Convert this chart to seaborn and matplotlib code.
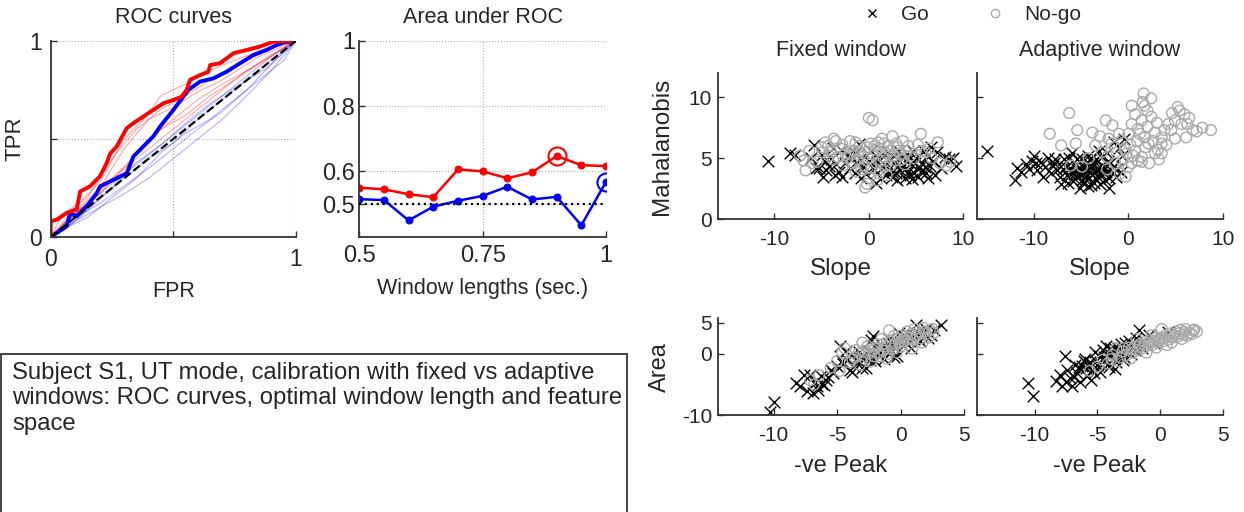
import numpy as np
import pandas as pd
import matplotlib
matplotlib.use('Agg')
import matplotlib.pyplot as plt
import seaborn as sns
from matplotlib.patches import Rectangle
from matplotlib.lines import Line2D

# ---- ROC curves (thick = best window, thin = other windows) ----
roc_red_fpr = [0, 0, 0.024, 0.065, 0.106, 0.12, 0.16, 0.2, 0.228, 0.242, 0.269, 0.31, 0.337, 0.378,
               0.418, 0.459, 0.5, 0.534, 0.554, 0.568, 0.609, 0.643, 0.65, 0.69, 0.745, 0.8, 0.853, 0.908, 1]
roc_red_tpr = [0, 0.08, 0.088, 0.122, 0.142, 0.232, 0.258, 0.308, 0.376, 0.424, 0.461, 0.554, 0.58, 0.614,
               0.647, 0.681, 0.698, 0.715, 0.749, 0.8, 0.825, 0.842, 0.876, 0.885, 0.936, 0.953, 0.97, 0.995, 1]
roc_blue_fpr = [0, 0.024, 0.065, 0.079, 0.106, 0.147, 0.188, 0.201, 0.242, 0.283, 0.31, 0.337, 0.364, 0.391,
                0.418, 0.446, 0.473, 0.5, 0.52, 0.541, 0.561, 0.609, 0.663, 0.717, 0.772, 0.826, 0.88, 0.921, 0.948, 1]
roc_blue_tpr = [0, 0.02, 0.054, 0.122, 0.105, 0.156, 0.224, 0.258, 0.283, 0.308, 0.325, 0.41, 0.444, 0.478,
                0.512, 0.563, 0.605, 0.647, 0.681, 0.715, 0.749, 0.792, 0.808, 0.842, 0.885, 0.927, 0.953, 0.978, 0.99, 1]

thin_red_fpr = [
    [0, 0.05, 0.15, 0.25, 0.35, 0.45, 0.55, 0.65, 0.8, 0.9, 1],
    [0, 0.08, 0.2, 0.3, 0.4, 0.5, 0.6, 0.7, 0.85, 1],
    [0, 0.1, 0.2, 0.3, 0.4, 0.5, 0.6, 0.7, 0.85, 1],
    [0, 0.05, 0.15, 0.25, 0.35, 0.45, 0.55, 0.65, 0.75, 0.9, 1],
    [0, 0.1, 0.2, 0.3, 0.38, 0.45, 0.55, 0.65, 0.75, 0.9, 1],
    [0, 0.06, 0.18, 0.28, 0.4, 0.5, 0.6, 0.7, 0.8, 1],
]
thin_red_tpr = [
    [0, 0.12, 0.2, 0.4, 0.55, 0.65, 0.72, 0.8, 0.9, 0.96, 1],
    [0, 0.1, 0.25, 0.45, 0.6, 0.66, 0.74, 0.8, 0.92, 1],
    [0, 0.12, 0.22, 0.35, 0.5, 0.6, 0.7, 0.78, 0.88, 1],
    [0, 0.05, 0.18, 0.3, 0.42, 0.55, 0.62, 0.72, 0.8, 0.93, 1],
    [0, 0.15, 0.28, 0.5, 0.6, 0.72, 0.78, 0.85, 0.9, 0.97, 1],
    [0, 0.08, 0.2, 0.33, 0.45, 0.55, 0.65, 0.75, 0.85, 1],
]
thin_blue_fpr = [
    [0, 0.1, 0.2, 0.3, 0.4, 0.5, 0.6, 0.7, 0.8, 0.9, 1],
    [0, 0.1, 0.2, 0.3, 0.4, 0.5, 0.6, 0.7, 0.8, 0.9, 1],
    [0, 0.08, 0.2, 0.3, 0.4, 0.5, 0.6, 0.7, 0.8, 0.9, 1],
    [0, 0.1, 0.2, 0.3, 0.4, 0.5, 0.6, 0.7, 0.8, 0.9, 1],
    [0, 0.05, 0.15, 0.25, 0.35, 0.45, 0.55, 0.65, 0.75, 0.85, 0.95, 1],
    [0, 0.12, 0.25, 0.35, 0.45, 0.55, 0.65, 0.75, 0.88, 1],
]
thin_blue_tpr = [
    [0, 0.08, 0.15, 0.22, 0.3, 0.4, 0.5, 0.6, 0.72, 0.85, 1],
    [0, 0.1, 0.17, 0.26, 0.35, 0.45, 0.55, 0.64, 0.75, 0.88, 1],
    [0, 0.06, 0.2, 0.3, 0.4, 0.48, 0.6, 0.7, 0.8, 0.9, 1],
    [0, 0.12, 0.22, 0.32, 0.42, 0.52, 0.62, 0.72, 0.82, 0.92, 1],
    [0, 0.04, 0.1, 0.2, 0.3, 0.43, 0.53, 0.6, 0.7, 0.8, 0.9, 1],
    [0, 0.1, 0.25, 0.38, 0.47, 0.58, 0.68, 0.76, 0.86, 1],
]

# ---- Area under ROC vs window length ----
win_len = [0.5, 0.55, 0.6, 0.65, 0.7, 0.75, 0.8, 0.85, 0.9, 0.95, 1.0]
auc_red = [0.55, 0.545, 0.53, 0.521, 0.606, 0.6, 0.579, 0.597, 0.647, 0.619, 0.616]
auc_blue = [0.515, 0.512, 0.45, 0.492, 0.51, 0.525, 0.553, 0.514, 0.522, 0.435, 0.568]

# ---- Feature space: Slope vs Mahalanobis ----
fix_go_slope = [-10.7, -8.3, -7.8, -5.8, -5.3, -4.8, -4.5, -3.8, -3.5, -2.8, -2.2, -1.5, -1, -0.8, 0, 0.8, 1.5, 2,
                2.5, 3, 3.3, 3.6, 3.8, 4, 4.2, 4.5, 4.8, 5, 5.3, 5.6, 6, 6.2, 6.5, 7, 7.2, 8.5, 8.9, 9.2, -4, -2,
                -1.2, 0.5, 1, 2.8, 3.2, 4.6, 5.5, 6.8, -5, -3.2, -0.3, 1.8, 2.2, 3.9, 4.4, 5.8, 0.2, -1.8, -4.2, 2.6,
                3.4, 4.1, 4.9, 5.2, 5.9, 6.3, 3.0, 2.4, 1.3, -0.5, -1.5, -2.5, -3.6, -4.6, -5.6, -6.1, 0.9, 1.6,
                4.7, 6.6, 7.6, 8.1, -2.9, -0.9, 2.9]
fix_go_maha = [4.8, 5.4, 5.3, 6.1, 4.2, 3.5, 4.0, 5.8, 4.5, 3.5, 5.2, 3.8, 6.2, 3.4, 4.8, 3.0, 4.3, 5.5,
               3.5, 3.2, 4.0, 5.0, 3.4, 4.8, 5.2, 4.5, 3.8, 5.0, 4.2, 4.6, 3.8, 5.2, 4.4, 3.6, 5.5, 4.9, 5.0, 4.4, 4.9, 4.2,
               4.6, 4.1, 5.0, 4.6, 5.6, 3.3, 3.9, 4.8, 5.3, 3.9, 3.7, 3.6, 4.9, 4.2, 3.6, 5.6, 5.6, 5.0, 4.4, 4.0,
               4.3, 3.9, 4.6, 3.5, 4.3, 3.4, 4.9, 3.9, 3.4, 4.3, 5.4, 4.6, 3.6, 4.8, 4.2, 5.0, 4.7, 5.2,
               5.6, 5.9, 4.2, 5.1, 5.7, 4.9, 3.8]
fix_nogo_slope = [-7.3, -6.9, -6.7, -6, -5, -4.6, -4.3, -4, -3.5, -3, -2.7, -2.3, -2, -1.6, -1.2, -1, -0.8, -0.5,
                  -0.4, -0.2, 0, 0.4, 0.2, 0.5, 0.8, 1, 1.2, 1.5, 1.7, 2, 2.2, 2.5, 2.8, 3, 3.3, 3.6, 4, 4.4, 5.2, 5.5,
                  6, 6.4, 7.3, 7.5, 8.2, 8.6, -1.8, -0.6, 0.3, 1.1, 1.9, -2.5, -3.8, -5.5, 0.7, 2.6, 3.8, -1.4, 1.4, -0.2,
                  -4.2, -3.3, -2.8, -1.9, -1.1, -0.1, 0.6, 1.3, 1.8, 2.3, 2.9, 3.5, 4.2, 4.8, 5.6, 6.7, -0.8, 0.1,
                  0.9, -3.7, -4.9, -6.3, 3.1, 1.6, -1.4]
fix_nogo_maha = [5.2, 4.8, 4.0, 4.6, 5.9, 6.3, 6.0, 5.5, 6.4, 5.8, 4.4, 5.0, 6.4, 5.6, 4.9, 6.0, 5.4, 4.4,
                 2.6, 2.9, 8.3, 8.1, 6.2, 5.3, 4.6, 6.3, 5.8, 5.1, 4.3, 6.0, 5.6, 6.8, 4.8, 5.9, 5.3, 6.4, 5.6, 5.2, 6.1, 7.0,
                 5.5, 5.8, 6.3, 4.6, 4.4, 4.7, 4.6, 5.1, 4.2, 3.8, 3.6, 5.4, 4.9, 4.7, 5.7, 5.2, 4.5, 3.9, 6.6, 5.9,
                 5.2, 5.1, 6.1, 5.3, 5.6, 5.0, 6.0, 4.8, 5.4, 4.4, 6.2, 4.9, 6.0, 5.0, 5.6, 5.0, 4.1, 3.4,
                 3.2, 6.6, 5.5, 5.6, 5.6, 6.2, 6.3]
ada_go_slope = [-14.9, -12, -11.3, -10.8, -10.5, -10, -9.6, -9.2, -8.8, -8.2, -7.8, -7.5, -7.1, -6.8, -6.5, -6.2,
                -6, -5.8, -5.5, -5.3, -5.1, -4.9, -4.7, -4.5, -4.3, -4.1, -3.9, -3.7, -3.5, -3.3, -3.1, -2.9, -2.7,
                -2.5, -2.2, -2, -1.8, -1.5, -1.3, -1, -0.8, -0.5, -5.6, -4.8, -4.4, -3.6, -6.6, -8.5, -9.8, -2.4,
                -3.0, -4.0, -5.0, -1.6, -7.2, -11.7, -6.3, -3.4, -2.8, -4.6,
                -5.2, -4.2, -3.8, -3.2, -2.6, -2.1, -1.9, -4.5, -5.4, -6.0, -6.9, -7.7, -8.0, -9.0, -10.2, -3.5,
                -4.9, -1.2, -0.7, -2.3, -4.0, -5.7, -3.0, -4.3, -6.4]
ada_go_maha = [5.6, 3.2, 3.9, 4.5, 4.1, 5.2, 4.0, 4.7, 4.3, 3.8, 4.6, 4.0, 2.9, 4.9, 3.6, 4.2,
               5.4, 3.1, 4.5, 3.8, 2.6, 4.9, 4.2, 3.5, 5.2, 3.9, 2.8, 4.6, 3.4, 4.1, 5.6, 3.7, 4.4,
               3.2, 4.8, 2.6, 4.0, 6.3, 3.5, 5.8, 3.9, 6.6, 3.3, 3.0, 4.7, 3.0, 4.3, 5.0, 4.6, 3.9,
               4.3, 4.4, 3.7, 4.3, 3.5, 4.2, 5.0, 4.9, 5.1, 3.9,
               4.2, 3.4, 4.3, 3.5, 4.2, 3.4, 4.6, 4.5, 4.9, 3.8, 4.1, 4.9, 4.4, 3.5, 4.8, 3.9,
               3.2, 4.1, 5.2, 5.4, 5.0, 3.7, 2.9, 2.7, 3.0]
ada_nogo_slope = [-8.3, -6.25, -7.1, -5.55, -5.4, -3.8, -2.4, -1.7, 0.35, 1.6, 1.7, 0.7, 2.4, 5.2, 5.9, 4.9, 7.8,
                  8.7, 6.8, 6.1, 4.2, 3.5, 2.8, 1.0, 0, -0.7, -1.4, 0.7, 1.4, 2.1, 3.5, 1.4, 0.35, -0.7, -1.4, -2.25,
                  -3.5, -2.8, -4.2, -4.9, -6.1, -0.3, -0.9, 3.8, 0.35, 1.7, 4.5, 5.6, 2.8, 1.4, 2.4, -2.1, -0.2,
                  -2.25, 3.5, 4.9,
                  0.2, 0.9, 1.8, 2.6, 3.1, 4.0, 1.2, 2.0, 3.0, 4.6, 5.4, 6.4, 0.5, 1.0, -0.4, -1.0, 2.2, 3.2,
                  -1.8, 0.0, 6.2, 7.2, 1.5, 2.0, -3.0]
ada_nogo_maha = [7.0, 8.7, 6.05, 6.2, 7.3, 7.1, 8.1, 7.7, 9.3, 10.3, 9.3, 8.6, 8.4, 9.2, 8.6, 8.1, 7.5,
                 7.3, 7.3, 6.7, 7.8, 6.7, 7.1, 7.4, 7.0, 6.5, 5.9, 5.6, 5.1, 6.2, 6.2, 4.7, 4.6, 4.8, 4.6, 4.1,
                 6.05, 5.5, 5.0, 4.3, 4.4, 3.5, 3.75, 7.3, 7.8, 6.7, 7.3, 7.8, 5.4, 8.1, 9.9, 6.6, 5.4,
                 5.1, 5.4, 6.6,
                 6.1, 6.4, 5.9, 6.4, 5.7, 6.1, 7.0, 7.6, 7.9, 8.7, 8.9, 8.3, 5.2, 4.8, 5.8, 7.0, 4.6, 4.9,
                 6.2, 4.3, 7.8, 7.2, 9.6, 8.9, 6.8]

# ---- Feature space: -ve Peak vs Area ----
fixb_go_peak = [-10.3, -10.0, -8.2, -7.9, -7.6, -7.4, -7.1, -6.9, -6.6, -6.5, -6.2, -6.0, -5.7, -5.3, -5.0, -4.8,
                -4.5, -4.3, -4.0, -3.7, -3.5, -3.2, -3.0, -2.7, -2.5, -2.3, -2.2, -2.0, -1.8, -1.5, -1.3, -1.0,
                -0.8, -0.6, -0.3, -0.1, 0.2, 0.5, 0.8, 1.0, 1.2, 1.5, 1.8, 2.2, 2.6, 3.2, -5.5, -4.2, -3.8, -2.8,
                -1.7, -0.5, 0.3, 1.4, -6.3, -3.3, -0.9, 2.0,
                -4.6, -3.9, -3.1, -2.4, -1.9, -1.1, -0.4, 0.4, 1.1, 1.7, 2.4, -5.9, -6.7]
fixb_go_area = [-9.5, -7.8, -4.8, -5.2, -3.5, -6.0, -3.4, -6.4, -5.2, -5.9, -4.9, -5.1, -3.8, -3.2, -2.0, 1.2,
                -1.6, 0.4, -2.6, -2.0, -0.8, -1.5, -2.4, -2.3, 0.5, 2.2, 2.8, -1.2, -0.2, 1.0, -0.8, 1.8,
                0.3, 1.7, -0.3, 3.4, 1.2, 2.5, 0.9, 3.0, 4.7, 2.0, 3.5, 2.6, 3.8, 4.7, -2.6, -1.0, -3.0, -0.5,
                0.6, -0.6, 2.9, 3.4, -3.6, 0.2, 2.4, 4.0,
                -1.2, -0.4, -0.6, -1.0, 0.9, 0.2, 1.0, 1.8, 2.4, 2.8, 3.0, -4.3, -4.6]
fixb_nogo_peak = [-7.1, -6.8, -6.4, -5.5, -5.0, -4.6, -4.4, -4.0, -3.6, -3.2, -3.0, -2.8, -2.5, -2.3, -2.0, -1.8,
                  -1.6, -1.4, -1.2, -1.0, -0.8, -0.6, -0.4, -0.2, 0.0, 0.2, 0.4, 0.6, 0.8, 1.0, 1.2, 1.4, 1.6,
                  1.8, 2.0, 2.3, 2.6, -0.9, 1.1, -3.5, -2.1, -0.3, 0.5, 1.7, -1.5, -4.8, -2.6, 0.9, 2.2, -1.1,
                  -3.8, -3.3, -2.9, -2.2, -1.7, -1.3, -0.7, -0.1, 0.3, 0.7, 1.3, 1.9, 2.5, 0.1, -0.5]
fixb_nogo_area = [-4.3, -5.0, -3.5, -2.3, -1.2, 0.2, 0.9, -1.4, -0.6, -1.8, 1.8, -0.9, 0.0, -1.2, 0.8, 1.5,
                  -0.4, 0.5, 1.2, 0.0, 2.0, 0.8, 1.6, 2.4, 1.1, 2.0, 2.8, 1.5, 3.2, 2.2, 2.8, 3.6, 2.5,
                  4.2, 3.2, 3.8, 3.4, 3.8, 4.0, 0.6, -0.4, 0.2, 3.6, 1.8, 2.4, -2.8, 1.2, 0.8, 2.6, -0.8,
                  -0.9, 0.1, 0.4, 0.6, 0.2, 1.6, 1.2, 1.8, 2.4, 2.6, 3.1, 3.6, 4.0, 3.0, 2.9]
adab_go_peak = [-10.5, -10.1, -8.3, -8.0, -7.8, -7.6, -7.4, -7.2, -7.0, -6.8, -6.6, -6.4, -6.2, -6.0, -5.8, -5.6,
                -5.4, -5.2, -5.0, -4.8, -4.6, -4.4, -4.3, -4.1, -3.9, -3.7, -3.5, -3.3, -3.1, -2.9, -2.7, -2.5,
                -2.3, -2.1, -1.9, -1.7, -1.5, -1.3, -6.9, -5.5, -4.9, -3.6, -2.8, -4.0, -5.9, -7.5, -3.0, -2.0,
                -6.1, -4.7, -0.9, 0.6, -0.5,
                -6.5, -5.7, -5.1, -4.5, -3.8, -3.2, -2.6, -2.2, -1.6, -4.2, -5.3, -3.4]
adab_go_area = [-4.8, -6.9, -4.5, -3.5, -5.3, -0.4, -2.6, -4.0, -5.2, -1.8, -3.2, -4.6, -2.0, -0.8, -3.6, -1.4,
                -2.6, 0.2, -1.8, -3.0, 0.6, -1.0, 1.2, -2.2, -0.2, 1.0, -1.4, 0.4, 1.6, -0.6, 0.8, 2.0,
                0.0, 1.4, 2.6, 3.9, 0.9, 2.0, -3.8, -4.2, -0.4, -2.5, 1.8, 0.9, -2.4, -4.6, -1.0, 0.6,
                -1.2, -1.6, 3.0, 3.6, 1.8,
                -2.2, -2.0, -1.2, -0.6, 0.4, -0.2, 0.2, 1.0, 1.6, -1.6, -3.2, 1.0]
adab_nogo_peak = [-5.6, -5.0, -4.6, -4.2, -3.8, -3.5, -3.2, -3.0, -2.7, -2.5, -2.2, -2.0, -1.8, -1.6, -1.4, -1.2,
                  -1.0, -0.8, -0.6, -0.4, -0.2, 0.0, 0.2, 0.4, 0.6, 0.8, 1.0, 1.2, 1.4, 1.6, 1.8, 2.0, 2.3,
                  2.6, 2.9, 0.1, -1.1, -0.3, 0.9, 1.7, -2.4, -3.4, -0.7, 0.5, 2.1, -1.9,
                  -2.9, -2.3, -1.7, -1.3, -0.9, -0.5, -0.1, 0.3, 0.7, 1.1, 1.5, 1.9, 2.5, 2.7, -3.9]
adab_nogo_area = [-2.8, -2.1, -1.0, -1.6, -0.2, 0.8, -0.6, 0.4, -0.2, 1.0, 0.2, 1.2, 0.6, 1.6, 0.9, 1.9,
                  1.3, 2.2, 1.5, 2.5, 1.8, 2.6, 2.0, 3.0, 2.3, 3.3, 2.6, 3.6, 2.8, 3.9, 3.1, 4.0, 3.4,
                  3.8, 3.6, 4.0, 0.2, 1.0, 1.8, 2.4, -0.8, -1.2, 3.0, 1.4, 2.9, 2.4,
                  0.9, 0.7, 1.2, 1.4, 1.8, 2.0, 2.2, 2.6, 2.8, 3.0, 3.3, 3.5, 3.2, 3.9, -0.9]

caption = ("Subject S1, UT mode, calibration with fixed vs adaptive\n"
           "windows: ROC curves, optimal window length and feature\n"
           "space")

sns.set_style('ticks')
plt.rcParams['font.family'] = ['Liberation Sans', 'DejaVu Sans']
plt.rcParams['axes.edgecolor'] = '#333333'
plt.rcParams['axes.linewidth'] = 1.3
plt.rcParams['axes.unicode_minus'] = False

RED = '#ff0000'
BLUE = '#0000ff'
GRAY = '#aaaaaa'
W, H = 1244, 512


def px_axes(fig, x0, y0, x1, y1):
    # place axes from pixel box (top-left origin)
    return fig.add_axes([x0 / W, 1 - y1 / H, (x1 - x0) / W, (y1 - y0) / H])


def matlab_style(ax, tick_size, xpad, ypad):
    sns.despine(ax=ax)
    ax.tick_params(direction='in', length=4, width=1, color='#333333', labelsize=tick_size)
    ax.tick_params(axis='x', pad=xpad)
    ax.tick_params(axis='y', pad=ypad)


fig = plt.figure(figsize=(12.44, 5.12), dpi=100)

# ROC curves
ax = px_axes(fig, 50.7, 40.7, 296, 237)
for fx, ty in zip(thin_red_fpr, thin_red_tpr):
    sns.lineplot(x=fx, y=ty, ax=ax, color=RED, alpha=0.35, lw=0.8, estimator=None, sort=False)
for fx, ty in zip(thin_blue_fpr, thin_blue_tpr):
    sns.lineplot(x=fx, y=ty, ax=ax, color=BLUE, alpha=0.3, lw=0.8, estimator=None, sort=False)
sns.lineplot(x=roc_blue_fpr, y=roc_blue_tpr, ax=ax, color=BLUE, lw=2.8, estimator=None, sort=False)
sns.lineplot(x=roc_red_fpr, y=roc_red_tpr, ax=ax, color=RED, lw=2.8, estimator=None, sort=False)
sns.lineplot(x=[0, 1], y=[0, 1], ax=ax, color='black', lw=1.6, linestyle='--')
ax.set_xlim(0, 1)
ax.set_ylim(0, 1)
ax.set_xticks([0, 0.5, 1])
ax.set_xticklabels(['0', '', '1'])
ax.set_yticks([0, 0.5, 1])
ax.set_yticklabels(['0', '', '1'])
ax.grid(True, linestyle=':', color='#b0b0b0', lw=0.8)
matlab_style(ax, 16.5, 8, 6)
ax.set_title('ROC curves', fontsize=15.5, pad=13)
ax.set_xlabel('FPR', fontsize=15.5, labelpad=7)
ax.set_ylabel('TPR', fontsize=16, labelpad=3)

# Area under ROC
ax = px_axes(fig, 359.3, 40.7, 606, 236.7)
ax.axhline(0.5, color='black', lw=1.6, linestyle=':', zorder=3)
sns.lineplot(x=win_len, y=auc_red, ax=ax, color=RED, lw=1.8, marker='o', ms=5, mec=RED)
sns.lineplot(x=win_len, y=auc_blue, ax=ax, color=BLUE, lw=1.8, marker='o', ms=5, mec=BLUE)
ir = int(np.argmax(auc_red))
ib = int(np.argmax(auc_blue))
ax.plot(win_len[ir], auc_red[ir], 'o', ms=13, mfc='none', mec=RED, mew=1.5)
ax.plot(win_len[ib], auc_blue[ib], 'o', ms=13, mfc='none', mec=BLUE, mew=1.5)
ax.set_xlim(0.5, 1)
ax.set_ylim(0.4, 1)
ax.set_xticks([0.5, 0.75, 1])
ax.set_xticklabels(['0.5', '0.75', '1'])
ax.set_yticks([0.5, 0.6, 0.8, 1])
ax.set_yticklabels(['0.5', '0.6', '0.8', '1'])
ax.grid(True, linestyle=':', color='#b0b0b0', lw=0.8)
matlab_style(ax, 17, 6, 3)
ax.set_title('Area under ROC', fontsize=15.5, pad=13)
ax.set_xlabel('Window lengths (sec.)', fontsize=15.5, labelpad=8)


def feature_panel(box, gx, gy, nx, ny, xlim, ylim, xticks, yticks, show_y, tick_size):
    ax = px_axes(fig, *box)
    sns.scatterplot(x=gx, y=gy, ax=ax, marker='x', color='black', s=70, linewidth=1)
    sns.scatterplot(x=nx, y=ny, ax=ax, marker='o', s=60, facecolor='none',
                    edgecolor=GRAY, linewidth=1)
    ax.set_xlim(*xlim)
    ax.set_ylim(*ylim)
    ax.set_xticks(xticks)
    ax.set_yticks(yticks)
    if not show_y:
        ax.set_yticklabels([])
    matlab_style(ax, tick_size, 8, 4)
    return ax


ax1 = feature_panel((717.7, 72.7, 963.3, 219.3), fix_go_slope, fix_go_maha, fix_nogo_slope, fix_nogo_maha,
                    (-16, 10), (0, 12), [-10, 0, 10], [0, 5, 10], True, 15)
ax1.set_title('Fixed window', fontsize=15.5, pad=12)
ax1.set_xlabel('Slope', fontsize=17.5, labelpad=6)
ax1.set_ylabel('Mahalanobis', fontsize=17.5, labelpad=11)

ax2 = feature_panel((976.7, 72.7, 1223.3, 219.3), ada_go_slope, ada_go_maha, ada_nogo_slope, ada_nogo_maha,
                    (-16, 10), (0, 12), [-10, 0, 10], [0, 5, 10], False, 15)
ax2.set_title('Adaptive window', fontsize=15.5, pad=12)
ax2.set_xlabel('Slope', fontsize=17.5, labelpad=6)

ax3 = feature_panel((717.7, 318, 964, 415.3), fixb_go_peak, fixb_go_area, fixb_nogo_peak, fixb_nogo_area,
                    (-14.4, 5), (-10, 5.8), [-10, -5, 0, 5], [-10, 0, 5], True, 15)
ax3.set_xlabel('-ve Peak', fontsize=17, labelpad=7)
ax3.set_ylabel('Area', fontsize=17, labelpad=8)

ax4 = feature_panel((976.7, 318, 1223.3, 415.3), adab_go_peak, adab_go_area, adab_nogo_peak, adab_nogo_area,
                    (-14.6, 5), (-10, 5.8), [-10, -5, 0, 5], [-10, 0, 5], False, 15)
ax4.set_xlabel('-ve Peak', fontsize=17, labelpad=7)

# legend at the top of the feature panels
handles = [Line2D([], [], marker='x', color='black', ls='none', ms=6, mew=1),
           Line2D([], [], marker='o', mfc='none', mec=GRAY, ls='none', ms=6, mew=1)]
fig.legend(handles, ['Go', 'No-go'], loc='center left', bbox_to_anchor=(853 / W, 1 - 15 / H), ncol=2,
           frameon=False, fontsize=15, handlelength=1.0, handletextpad=0.9, columnspacing=2.7,
           borderaxespad=0)

# caption box
fig.add_artist(Rectangle((1 / W, -0.05), 626 / W, 0.05 + 1 - 354 / H, transform=fig.transFigure,
                         fill=False, edgecolor='#333333', lw=1.3))
fig.text(12 / W, 1 - 362 / H, caption, fontsize=17.2, va='top', linespacing=1.2)

fig.savefig('out.png', dpi=100)
